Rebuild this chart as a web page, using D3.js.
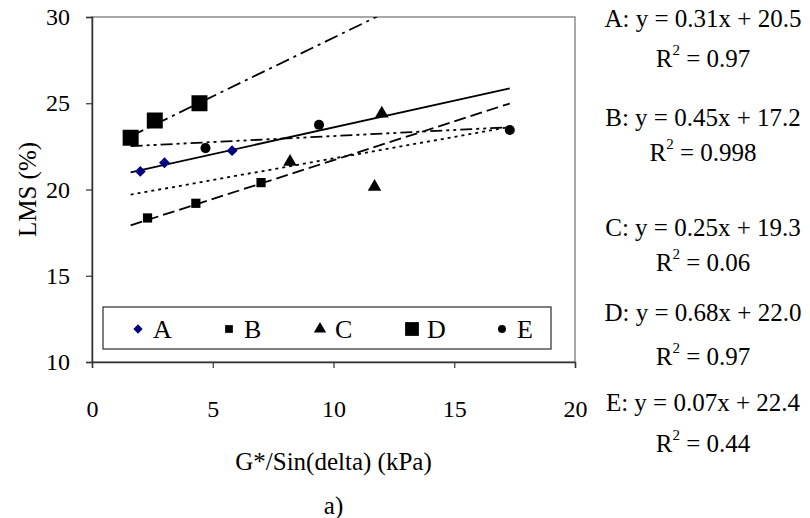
<!DOCTYPE html>
<html>
<head>
<meta charset="utf-8">
<script src="https://cdn.jsdelivr.net/npm/d3@7"></script>
<style>
  body { margin: 0; background: #fff; }
  text { font-family: "Times New Roman", "Liberation Serif", Times, "DejaVu Serif", serif; fill: #000; }
</style>
</head>
<body>
<div id="chart"></div>
<script>
// series names and point values
const seriesNames = ['A', 'B', 'C', 'D', 'E'];
const xA = [2.0, 3.0, 5.8],  yA = [21.05, 21.55, 22.25];
const xB = [2.3, 4.3, 7.0],  yB = [18.35, 19.2, 20.4];
const xC = [8.2, 11.7, 12.0], yC = [21.6, 20.15, 24.4];
const xD = [1.6, 2.6, 4.45], yD = [23.0, 24.0, 25.0];
const xE = [4.7, 9.4, 17.3], yE = [22.4, 23.75, 23.45];

// trend line equations shown on the right
const slopes = [0.31, 0.45, 0.25, 0.68, 0.07];
const intercepts = [20.5, 17.2, 19.3, 22.0, 22.4];
const rSquared = ['0.97', '0.998', '0.06', '0.97', '0.44'];
const trendRange = [1.6, 17.3];

const xTicks = [0, 5, 10, 15, 20];
const yTicks = [10, 15, 20, 25, 30];

const serif = '"Times New Roman", "Liberation Serif", Times, "DejaVu Serif", serif';
const width = 810, height = 518;
const margin = { left: 92, right: 235, top: 17, bottom: 156 };

const svg = d3.select('#chart').append('svg')
  .attr('width', width)
  .attr('height', height);

const x = d3.scaleLinear().domain([0, 20]).range([margin.left, width - margin.right]);
const y = d3.scaleLinear().domain([10, 30]).range([height - margin.bottom, margin.top]);

// plot area border (gray top/right)
svg.append('rect')
  .attr('x', x(0)).attr('y', y(30))
  .attr('width', x(20) - x(0)).attr('height', y(10) - y(30))
  .attr('fill', '#fff').attr('stroke', '#8c8c8c').attr('stroke-width', 1.5);

svg.append('defs').append('clipPath').attr('id', 'plotclip')
  .append('rect')
  .attr('x', x(0)).attr('y', y(30))
  .attr('width', x(20) - x(0)).attr('height', y(10) - y(30));

// axes
const xAxis = svg.append('g')
  .attr('transform', `translate(0,${y(10)})`)
  .call(d3.axisBottom(x).tickValues(xTicks).tickSize(6).tickPadding(32));
const yAxis = svg.append('g')
  .attr('transform', `translate(${x(0)},0)`)
  .call(d3.axisLeft(y).tickValues(yTicks).tickSize(6).tickPadding(16));
[xAxis, yAxis].forEach(g => {
  g.attr('font-family', null);
  g.select('.domain').attr('stroke', '#333').attr('stroke-width', 1.5);
  g.selectAll('.tick line').attr('stroke', '#333').attr('stroke-width', 1.2);
  g.selectAll('.tick text')
    .style('font-family', serif)
    .style('font-size', '24px').attr('fill', '#000');
});

// trend lines
const dashes = [null, '12,5', '3,4', '14,5,3,5', '12,4,3,4,3,4'];
const trend = svg.append('g').attr('clip-path', 'url(#plotclip)');
slopes.forEach((m, i) => {
  const line = trendRange.map(v => [v, m * v + intercepts[i]]);
  trend.append('path')
    .attr('d', d3.line().x(d => x(d[0])).y(d => y(d[1]))(line))
    .attr('fill', 'none')
    .attr('stroke', '#000')
    .attr('stroke-width', 1.8)
    .attr('stroke-dasharray', dashes[i]);
});

// markers
const symbols = [
  { type: d3.symbolDiamond2, size: 75, fill: '#000080' },
  { type: d3.symbolSquare, size: 85, fill: '#000' },
  { type: d3.symbolTriangle, size: 80, fill: '#000' },
  { type: d3.symbolSquare, size: 256, fill: '#000' },
  { type: d3.symbolCircle, size: 80, fill: '#000' }
];
const xs = [xA, xB, xC, xD, xE], ys = [yA, yB, yC, yD, yE];
xs.forEach((xv, i) => {
  svg.append('g').selectAll('path')
    .data(xv.map((v, j) => [v, ys[i][j]]))
    .enter()
    .append('path')
    .attr('transform', d => `translate(${x(d[0])},${y(d[1])})`)
    .attr('d', d3.symbol().type(symbols[i].type).size(symbols[i].size))
    .attr('fill', symbols[i].fill);
});

// legend
const legend = svg.append('g');
legend.append('rect')
  .attr('x', 103).attr('y', 307).attr('width', 448).attr('height', 42)
  .attr('fill', '#fff').attr('stroke', '#000').attr('stroke-width', 1);
const legendX = [138, 229, 320, 412, 502];
const legendSizes = [55, 60, 65, 190, 50];
seriesNames.forEach((name, i) => {
  legend.append('path')
    .attr('transform', `translate(${legendX[i]},329)`)
    .attr('d', d3.symbol().type(symbols[i].type).size(legendSizes[i]))
    .attr('fill', symbols[i].fill);
  legend.append('text')
    .attr('x', legendX[i] + 15).attr('y', 338)
    .style('font-size', '26px')
    .text(name);
});

// axis titles
svg.append('text')
  .attr('transform', `translate(36,${(y(10) + y(30)) / 2}) rotate(-90)`)
  .attr('text-anchor', 'middle')
  .style('font-size', '25px')
  .text('LMS (%)');
svg.append('text')
  .attr('x', (x(0) + x(20)) / 2).attr('y', 470)
  .attr('text-anchor', 'middle')
  .style('font-size', '25px')
  .text('G*/Sin(delta) (kPa)');
svg.append('text')
  .attr('x', (x(0) + x(20)) / 2).attr('y', 514)
  .attr('text-anchor', 'middle')
  .style('font-size', '25px')
  .text('a)');

// equations
const eqBase = [27, 126, 236, 321, 411];
const r2Base = [67, 161, 271, 365, 452];
seriesNames.forEach((name, i) => {
  svg.append('text')
    .attr('x', 703).attr('y', eqBase[i])
    .attr('text-anchor', 'middle')
    .style('font-size', '25px')
    .text(`${name}: y = ${slopes[i].toFixed(2)}x + ${intercepts[i].toFixed(1)}`);
  const r = svg.append('text')
    .attr('x', 703).attr('y', r2Base[i])
    .attr('text-anchor', 'middle')
    .style('font-size', '25px');
  r.append('tspan').text('R');
  r.append('tspan').attr('dy', -12).style('font-size', '15px').text('2');
  r.append('tspan').attr('dy', 12).text(' = ' + rSquared[i]);
});
</script>
</body>
</html>
